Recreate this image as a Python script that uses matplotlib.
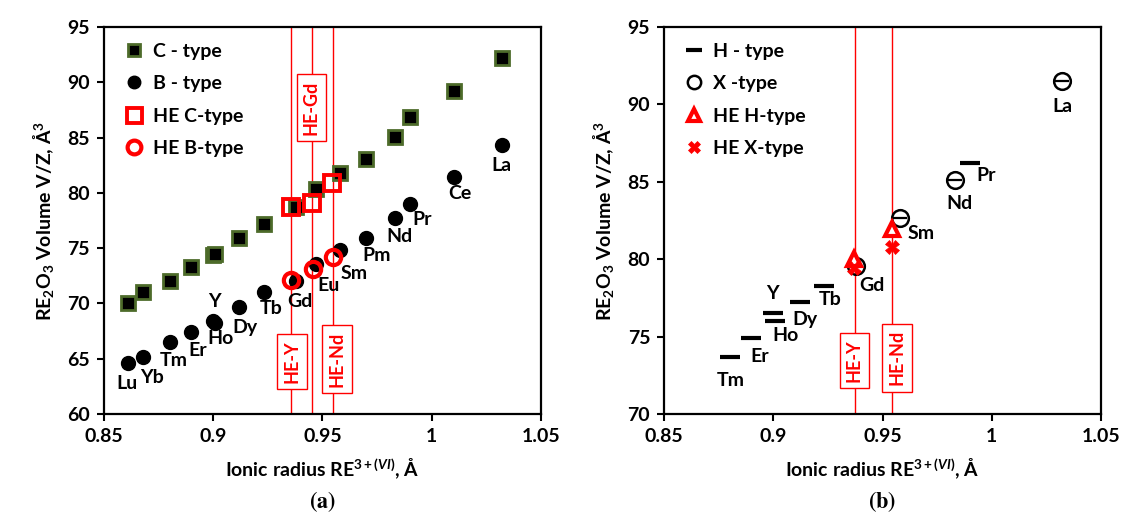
import matplotlib
matplotlib.use('Agg')
import matplotlib.pyplot as plt

plt.rcParams['font.family'] = ['Lato', 'DejaVu Sans']
plt.rcParams['font.weight'] = 'bold'
plt.rcParams['mathtext.fontset'] = 'custom'
plt.rcParams['mathtext.rm'] = 'Lato:bold'
plt.rcParams['mathtext.it'] = 'Lato:bold:italic'
plt.rcParams['mathtext.bf'] = 'Lato:bold'

# ---- panel (a) data ----
c_r = [0.861, 0.868, 0.880, 0.890, 0.900, 0.901, 0.912, 0.923, 0.938, 0.947, 0.958, 0.970, 0.983, 0.990, 1.010, 1.032]
c_v = [70.06, 70.99, 72.03, 73.31, 74.39, 74.45, 75.96, 77.2, 78.76, 80.35, 81.83, 83.03, 85.08, 86.82, 89.2, 92.2]
b_r = [0.861, 0.868, 0.880, 0.890, 0.900, 0.901, 0.912, 0.923, 0.938, 0.947, 0.958, 0.970, 0.983, 0.990, 1.010, 1.032]
b_v = [64.57, 65.13, 66.48, 67.46, 68.42, 68.21, 69.64, 70.99, 72.0, 73.52, 74.85, 75.96, 77.77, 78.97, 81.47, 84.32]
hec_r = [0.9355, 0.9453, 0.9545]
hec_v = [78.76, 79.06, 80.92]
heb_r = [0.9358, 0.9455, 0.9548]
heb_v = [72.09, 73.13, 74.24]
a_names = ['Lu', 'Yb', 'Tm', 'Er', 'Ho', 'Y', 'Dy', 'Tb', 'Gd', 'Eu', 'Sm', 'Pm', 'Nd', 'Pr', 'Ce', 'La']
a_lx = [0.8606, 0.8721, 0.8819, 0.8928, 0.9031, 0.9007, 0.9143, 0.9264, 0.9396, 0.953, 0.9645, 0.9748, 0.9852, 0.9955, 1.0127, 1.032]
a_ly = [62.75, 63.28, 64.84, 65.76, 66.87, 70.15, 67.85, 69.55, 70.2, 71.64, 72.69, 74.35, 76.05, 77.56, 79.96, 82.5]
a_lines = [0.9355, 0.9453, 0.955]
a_boxes = [('HE-Y', 0.936, 64.73), ('HE-Gd', 0.9449, 87.7), ('HE-Nd', 0.9566, 64.97)]

# ---- panel (b) data ----
h_r = [0.880, 0.890, 0.900, 0.901, 0.912, 0.923, 0.990]
h_v = [73.7, 74.91, 76.52, 76.03, 77.26, 78.29, 86.24]
x_r = [0.938, 0.958, 0.983, 1.032]
x_v = [79.57, 82.67, 85.1, 91.51]
heh_r = [0.9368, 0.9545]
heh_v = [80.0, 81.92]
hex_r = [0.9368, 0.9545]
hex_v = [79.45, 80.8]
b_names = ['Tm', 'Er', 'Ho', 'Y', 'Dy', 'Tb', 'Gd', 'Sm', 'Nd', 'Pr', 'La']
b_lx = [0.8807, 0.8939, 0.9055, 0.8997, 0.9146, 0.9262, 0.9453, 0.9676, 0.985, 0.9975, 1.0323]
b_ly = [72.14, 73.74, 75.09, 77.8, 76.09, 77.37, 78.33, 81.66, 83.6, 85.42, 89.84]
b_lines = [0.9372, 0.9543]
b_boxes = [('HE-Y', 0.9371, 73.45), ('HE-Nd', 0.9565, 73.63)]

fs = 14
xlab = r'Ionic radius RE$^{3+(\mathit{VI})}$, Å'
ylab = r'RE$_2$O$_3$ Volume V/Z, Å$^3$'

fig = plt.figure(figsize=(11.28, 5.21), dpi=100)
ax1 = fig.add_axes([0.0922, 0.2054, 0.3874, 0.7428])
ax2 = fig.add_axes([0.5887, 0.2054, 0.3874, 0.7428])


def style(ax, ylim, yticks):
    ax.set_xlim(0.85, 1.05)
    ax.set_ylim(*ylim)
    ax.set_xticks([0.85, 0.9, 0.95, 1.0, 1.05])
    ax.set_xticklabels(['0.85', '0.9', '0.95', '1', '1.05'])
    ax.set_yticks(yticks)
    ax.tick_params(direction='out', length=5, width=1.5, labelsize=fs, pad=5)
    for s in ax.spines.values():
        s.set_linewidth(1.6)
    ax.set_xlabel(xlab, fontsize=fs, fontweight='bold', labelpad=8)
    ax.set_ylabel(ylab, fontsize=fs, fontweight='bold', labelpad=8)


def he_marks(ax, lines, boxes):
    for xv in lines:
        ax.axvline(xv, color='red', lw=1, zorder=1)
    for txt, xb, yb in boxes:
        ax.text(xb, yb, txt, rotation=90, color='red', fontsize=13, fontweight='bold',
                ha='center', va='center', zorder=2,
                bbox=dict(boxstyle='square,pad=0.35', fc='white', ec='red', lw=1))


# panel (a)
style(ax1, (60, 95), range(60, 96, 5))
he_marks(ax1, a_lines, a_boxes)
ax1.plot(c_r, c_v, 's', ms=9.5, mfc='black', mec='#4d6b2a', mew=2, label='C - type', zorder=3)
ax1.plot(b_r, b_v, 'o', ms=10, mfc='black', mec='black', label='B - type', zorder=3)
ax1.plot(hec_r, hec_v, 's', ms=12, mfc='none', mec='red', mew=2.8, label='HE C-type', zorder=4)
ax1.plot(heb_r, heb_v, 'o', ms=11, mfc='none', mec='red', mew=3, label='HE B-type', zorder=4)
for n, lx, ly in zip(a_names, a_lx, a_ly):
    ax1.text(lx, ly, n, fontsize=fs, fontweight='bold', ha='center', va='center', zorder=5)
ax1.legend(loc='upper left', frameon=False, fontsize=fs, labelspacing=0.8,
           handletextpad=0.2, borderaxespad=0.4, handlelength=1.5, markerscale=0.9)

# panel (b)
style(ax2, (70, 95), range(70, 96, 5))
he_marks(ax2, b_lines, b_boxes)
ax2.plot(h_r, h_v, '_', ms=15, mew=3, color='black', label='H - type', zorder=3)
ax2.plot(x_r, x_v, 'o', ms=12, mfc='none', mec='black', mew=1.8, label='X -type', zorder=3)
ax2.plot(x_r, x_v, '_', ms=10, mew=1.6, color='black', zorder=3)
ax2.plot(heh_r, heh_v, '^', ms=10, mfc='white', mec='red', mew=3, label='HE H-type', zorder=4)
ax2.plot(hex_r, hex_v, 'X', ms=10, mfc='red', mec='red', mew=0.5, label='HE X-type', zorder=4)
for n, lx, ly in zip(b_names, b_lx, b_ly):
    ax2.text(lx, ly, n, fontsize=fs, fontweight='bold', ha='center', va='center', zorder=5)
ax2.legend(loc='upper left', frameon=False, fontsize=fs, labelspacing=0.8,
           handletextpad=0.2, borderaxespad=0.4, handlelength=1.5, markerscale=0.8)

fig.text(0.286, 0.038, r'$(\mathbf{a})$', fontsize=16, ha='center', va='center',
         math_fontfamily='stix')
fig.text(0.782, 0.038, r'$(\mathbf{b})$', fontsize=16, ha='center', va='center',
         math_fontfamily='stix')

fig.savefig('out.png', dpi=100)
